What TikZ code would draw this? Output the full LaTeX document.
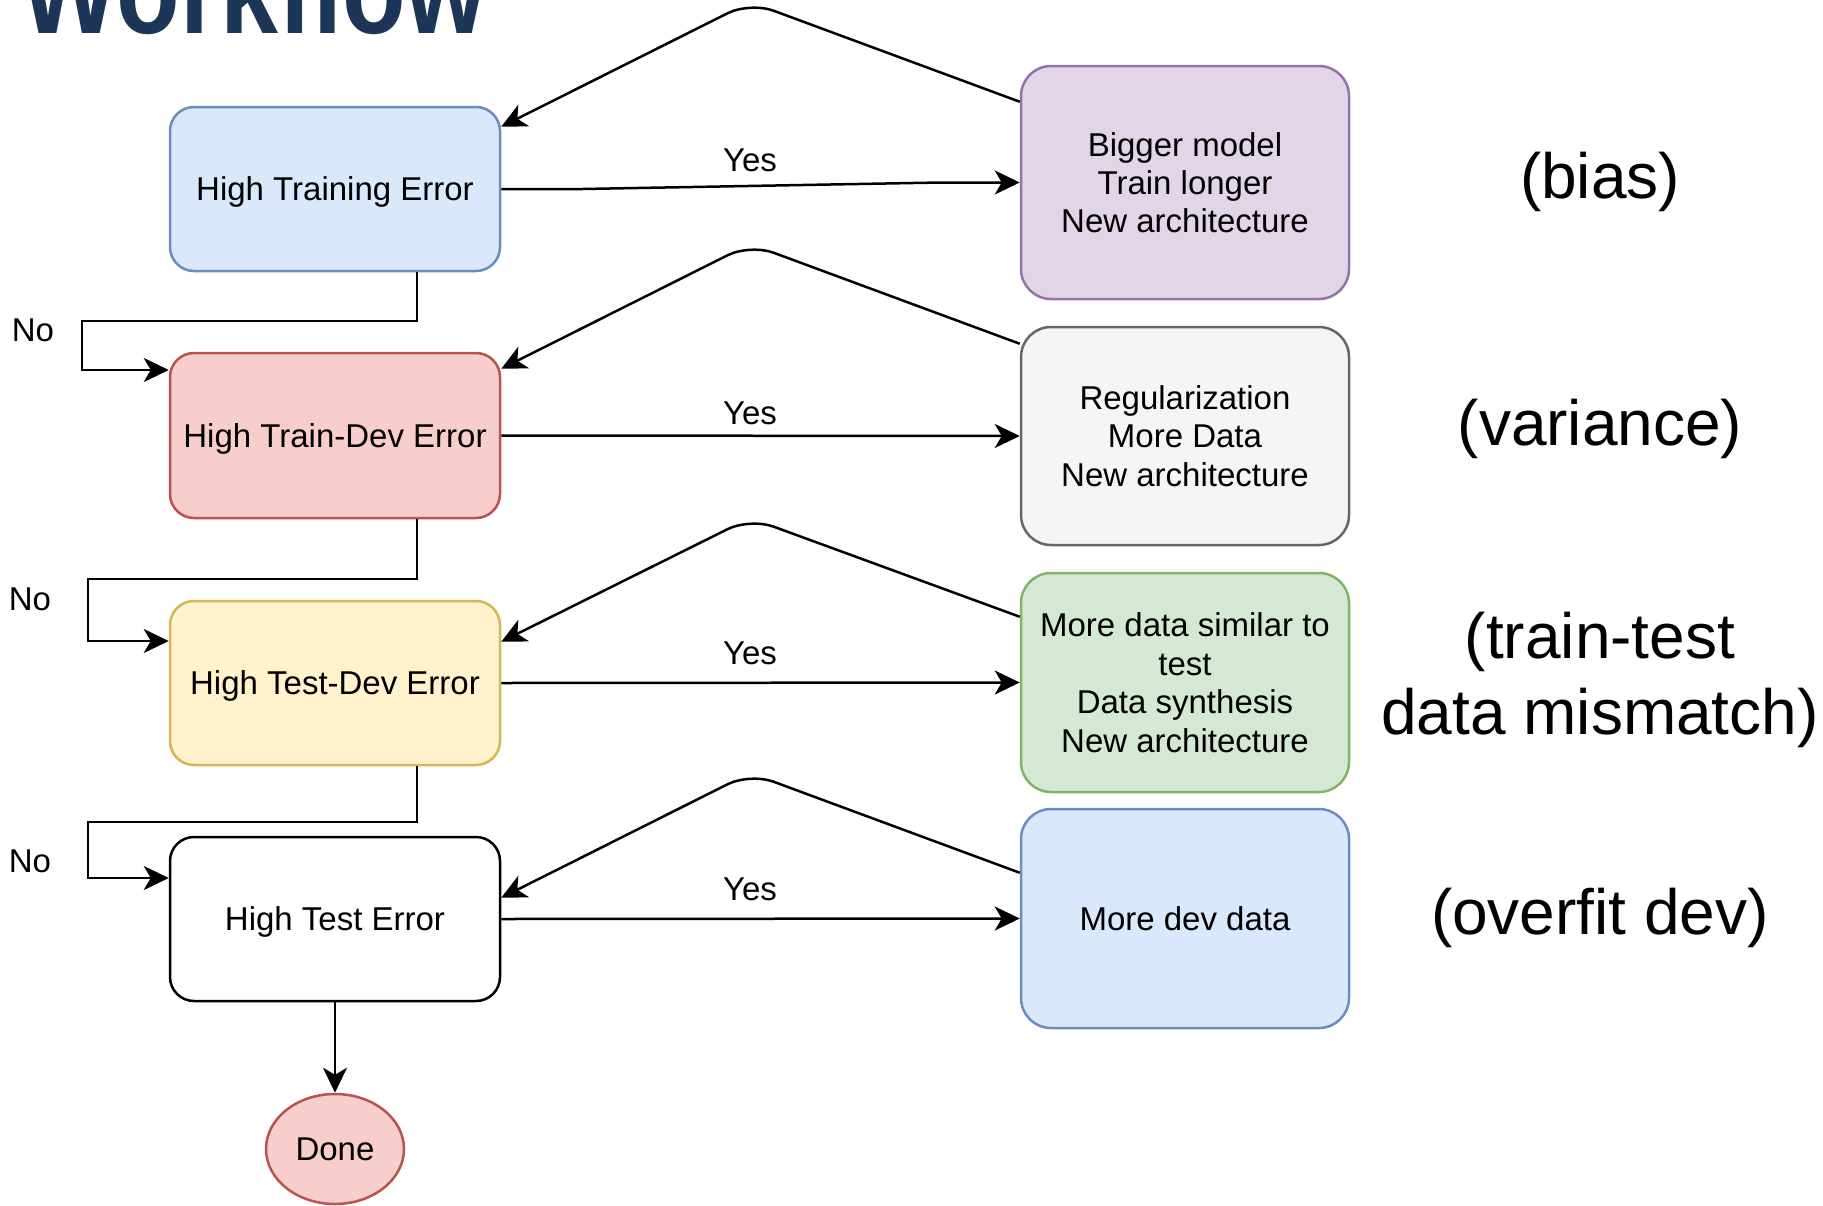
\documentclass[tikz,border=0pt]{standalone}
\usepackage{fontspec}
\setmainfont{Liberation Sans}
\usetikzlibrary{arrows.meta,calc,shapes.geometric}
\definecolor{titleC}{HTML}{1D3557}
\definecolor{blueF}{HTML}{DAE8FC}\definecolor{blueD}{HTML}{6C8EBF}
\definecolor{redF}{HTML}{F8CECC}\definecolor{redD}{HTML}{B85450}
\definecolor{yelF}{HTML}{FFF2CC}\definecolor{yelD}{HTML}{D6B656}
\definecolor{grnF}{HTML}{D5E8D4}\definecolor{grnD}{HTML}{82B366}
\definecolor{purF}{HTML}{E1D5E7}\definecolor{purD}{HTML}{9673A6}
\definecolor{grayF}{HTML}{F5F5F5}\definecolor{grayD}{HTML}{666666}
\begin{document}
\begin{tikzpicture}[x=1pt,y=-1pt,
  box/.style={draw, rounded corners=24pt, line width=2.5pt, minimum width=330pt,
    minimum height=164pt, align=center, inner sep=0pt, text depth=-1pt,
    font=\fontsize{33}{38.4}\selectfont},
  rbox/.style={box, rounded corners=30pt, minimum width=328pt},
  arr/.style={draw, line width=2.5pt, -{Stealth[length=25pt,width=24pt,inset=7pt]}},
  fb/.style={arr, rounded corners=25pt},
  lbl/.style={font=\fontsize{33}{38}\selectfont, inner sep=0pt},
  side/.style={font=\fontsize{64}{76}\selectfont, align=center, inner sep=0pt}]
\path[use as bounding box, clip] (0,0) rectangle (1823,1205);

% title (cut off at top)
\node[anchor=base west, inner sep=0pt, text=titleC,
  font=\fontsize{127}{130}\selectfont\bfseries] (title) at (20,33) {\scalebox{0.82}[1]{Workflow}};

% left column
\node[box, fill=blueF, draw=blueD] (a) at (335,189) {High Training Error};
\node[box, fill=redF, draw=redD, minimum height=165pt, text depth=-2pt] (b) at (335,435.5) {High Train-Dev Error};
\node[box, fill=yelF, draw=yelD, text depth=-2pt] (c) at (335,683) {High Test-Dev Error};
\node[box, fill=white, draw=black] (d) at (335,919) {High Test Error};
\node[ellipse, draw=redD, fill=redF, line width=2.5pt, minimum width=138pt, minimum height=110pt,
  inner sep=0pt, font=\fontsize{33}{38.4}\selectfont] (done) at (335,1149) {Done};

% right column
\node[rbox, fill=purF, draw=purD, minimum height=233pt, text depth=-5pt] (p) at (1185,182.5) {Bigger model\\Train longer\\New architecture};
\node[rbox, fill=grayF, draw=grayD, minimum height=218pt, text depth=-2pt] (q) at (1185,436) {Regularization\\More Data\\New architecture};
\node[rbox, fill=grnF, draw=grnD, minimum height=219pt, text depth=-5pt] (r) at (1185,682.5) {More data similar to\\test\\Data synthesis\\New architecture};
\node[rbox, fill=blueF, draw=blueD, minimum height=219pt, text depth=0pt] (s) at (1185,918.5) {More dev data};

% side labels
\node[side] (l1) at (1600,182) {(bias)};
\node[side] (l2) at (1600,429) {(variance)};
\node[side] (l3) at (1600,680) {(train-test\\data mismatch)};
\node[side] (l4) at (1600,918) {(overfit dev)};

% yes arrows
\draw[arr] (a.east) -- ++(81,0) -- ($(p.west)+(-79,0)$) -- (p.west);
\draw[arr] (b.east) -- (q.west);
\draw[arr] (c.east) -- (r.west);
\draw[arr] (d.east) -- (s.west);
\node[lbl] (y1) at (750,160) {Yes};
\node[lbl] (y2) at (750,413) {Yes};
\node[lbl] (y3) at (750,653) {Yes};
\node[lbl] (y4) at (750,889) {Yes};

% feedback arrows
\draw[fb] ($(p.north west)+(0,37)$) -- (750,2) -- ($(a.north east)+(0,21)$);
\draw[fb] ($(q.north west)+(0,18)$) -- (750,244) -- ($(b.north east)+(0,17)$);
\draw[fb] ($(r.north west)+(0,45)$) -- (750,518) -- ($(c.north east)+(0,42)$);
\draw[fb] ($(s.north west)+(0,65)$) -- (750,773) -- ($(d.north east)+(0,62)$);

% no arrows
\draw[arr] ($(a.south)+(82,0)$) |- (82,321) |- ($(b.west)+(0,-65.5)$);
\draw[arr] ($(b.south)+(82,0)$) |- (88,579) |- ($(c.west)+(0,-42)$);
\draw[arr] ($(c.south)+(82,0)$) |- (88,822) |- ($(d.west)+(0,-41)$);
\node[lbl] (n1) at (33,330) {No};
\node[lbl] (n2) at (30,599) {No};
\node[lbl] (n3) at (30,861) {No};

\draw[arr] (d.south) -- (done.north);
\end{tikzpicture}
\end{document}
